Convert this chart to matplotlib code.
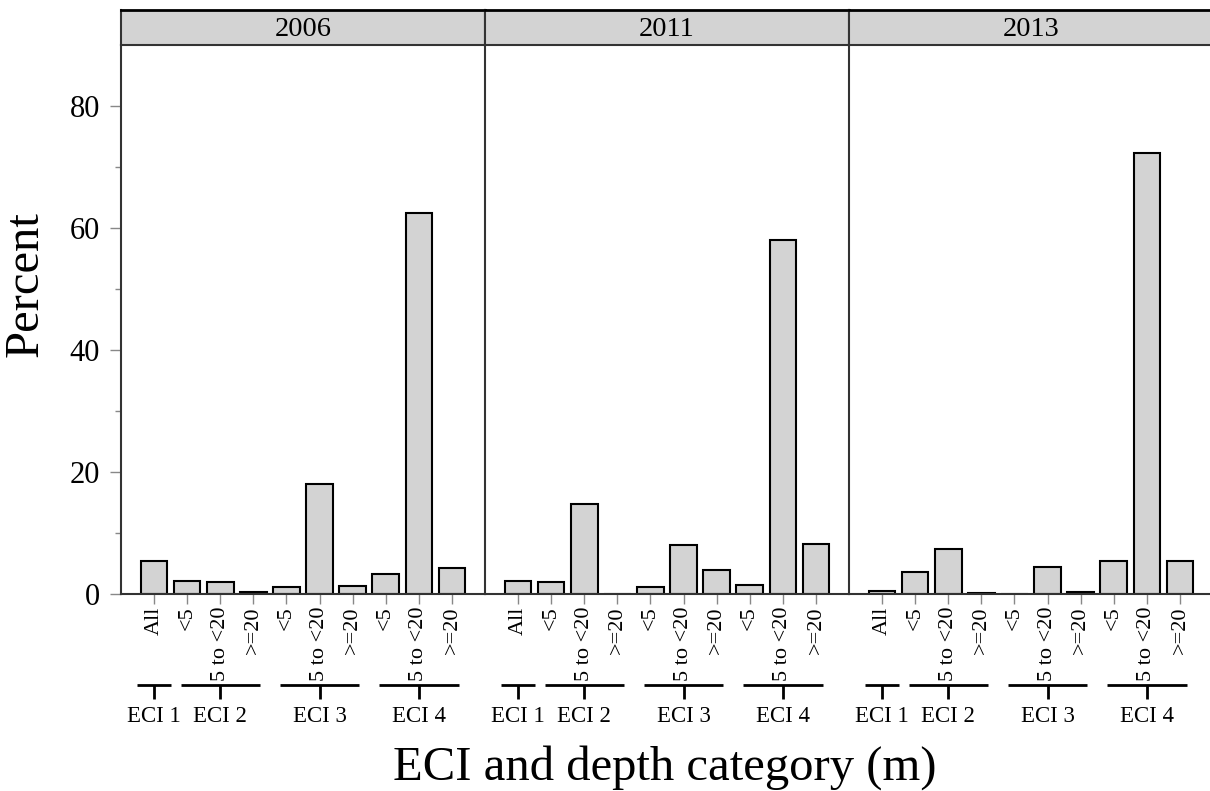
import numpy as np
import matplotlib
matplotlib.use("Agg")
import matplotlib.pyplot as plt
from matplotlib.transforms import blended_transform_factory

plt.rcParams['font.family'] = ['Liberation Serif', 'DejaVu Serif']

years = ["2006", "2011", "2013"]
depth_labels = ["All", "<5", "5 to <20", ">=20",
                "<5", "5 to <20", ">=20",
                "<5", "5 to <20", ">=20"]
eci_groups = ["ECI 1", "ECI 2", "ECI 3", "ECI 4"]
eci_bars = [[1], [2, 3, 4], [5, 6, 7], [8, 9, 10]]   # bar numbers in each ECI group

pct_2006 = [5.4, 2.2, 2.0, 0.3, 1.1, 18.0, 1.3, 3.2, 62.5, 4.3]
pct_2011 = [2.2, 1.9, 14.8, 0.0, 1.2, 8.0, 3.9, 1.5, 58.0, 8.2]
pct_2013 = [0.5, 3.6, 7.4, 0.2, 0.0, 4.4, 0.3, 5.4, 72.3, 5.4]
percents = [pct_2006, pct_2011, pct_2013]

W, H = 1210, 791
fig = plt.figure(figsize=(W/100, H/100), dpi=100)

ax_y0 = (H-594)/H
ax_h = 549/H
strip_y0 = (H-45)/H
strip_h = 35/H
panel_w = 364/W
lefts = [121/W, 485/W, 849/W]

xpos = np.arange(1, len(depth_labels)+1)
spine_col = '#333333'

for k, year in enumerate(years):
    ax = fig.add_axes([lefts[k], ax_y0, panel_w, ax_h])
    ax.bar(xpos, percents[k], width=0.8, color='#d3d3d3', edgecolor='black', linewidth=1.5)
    ax.set_xlim(0, 11)
    ax.set_ylim(0, 90)
    for s in ['top', 'right']:
        ax.spines[s].set_visible(False)
    ax.spines['left'].set_color(spine_col)
    ax.spines['left'].set_linewidth(1.5)
    ax.spines['bottom'].set_color(spine_col)
    ax.spines['bottom'].set_linewidth(1.5)

    ax.set_xticks(xpos)
    ax.set_xticklabels(depth_labels, rotation=90, fontsize=16)
    ax.tick_params(axis='x', length=7, width=1, color='#888888', pad=2)

    if k == 0:
        ax.set_yticks([0, 20, 40, 60, 80])
        ax.set_yticks([10, 30, 50, 70], minor=True)
        ax.tick_params(axis='y', which='major', length=8, width=1, color='#888888', labelsize=22, pad=7)
        ax.tick_params(axis='y', which='minor', length=4, width=1, color='#888888')
    else:
        ax.set_yticks([])

    # ECI group brackets under the depth labels
    tr = blended_transform_factory(ax.transData, ax.transAxes)
    for name, bars in zip(eci_groups, eci_bars):
        c = np.mean(bars)
        half = 1.2 if len(bars) > 1 else 0.52
        ax.plot([c-half, c+half], [-0.166, -0.166], color='black', lw=2,
                transform=tr, clip_on=False, solid_capstyle='butt')
        ax.plot([c, c], [-0.166, -0.191], color='black', lw=2,
                transform=tr, clip_on=False, solid_capstyle='butt')
        ax.text(c, -0.224, name, transform=tr, ha='center', va='center', fontsize=16.5)

    # facet strip
    sax = fig.add_axes([lefts[k], strip_y0, panel_w, strip_h])
    sax.set_facecolor('#d3d3d3')
    sax.set_xticks([])
    sax.set_yticks([])
    for s in sax.spines.values():
        s.set_color(spine_col)
        s.set_linewidth(1.5)
    sax.spines['top'].set_color('black')
    sax.spines['top'].set_linewidth(2)
    sax.text(0.5, 0.45, year, transform=sax.transAxes, ha='center', va='center', fontsize=20.5)

fig.text(26/W, 1-284/H, "Percent", rotation=90, ha='center', va='center', fontsize=35)
fig.text(665/W, 1-780/H, "ECI and depth category (m)", ha='center', va='baseline', fontsize=35)

fig.savefig("out.png", dpi=100)
